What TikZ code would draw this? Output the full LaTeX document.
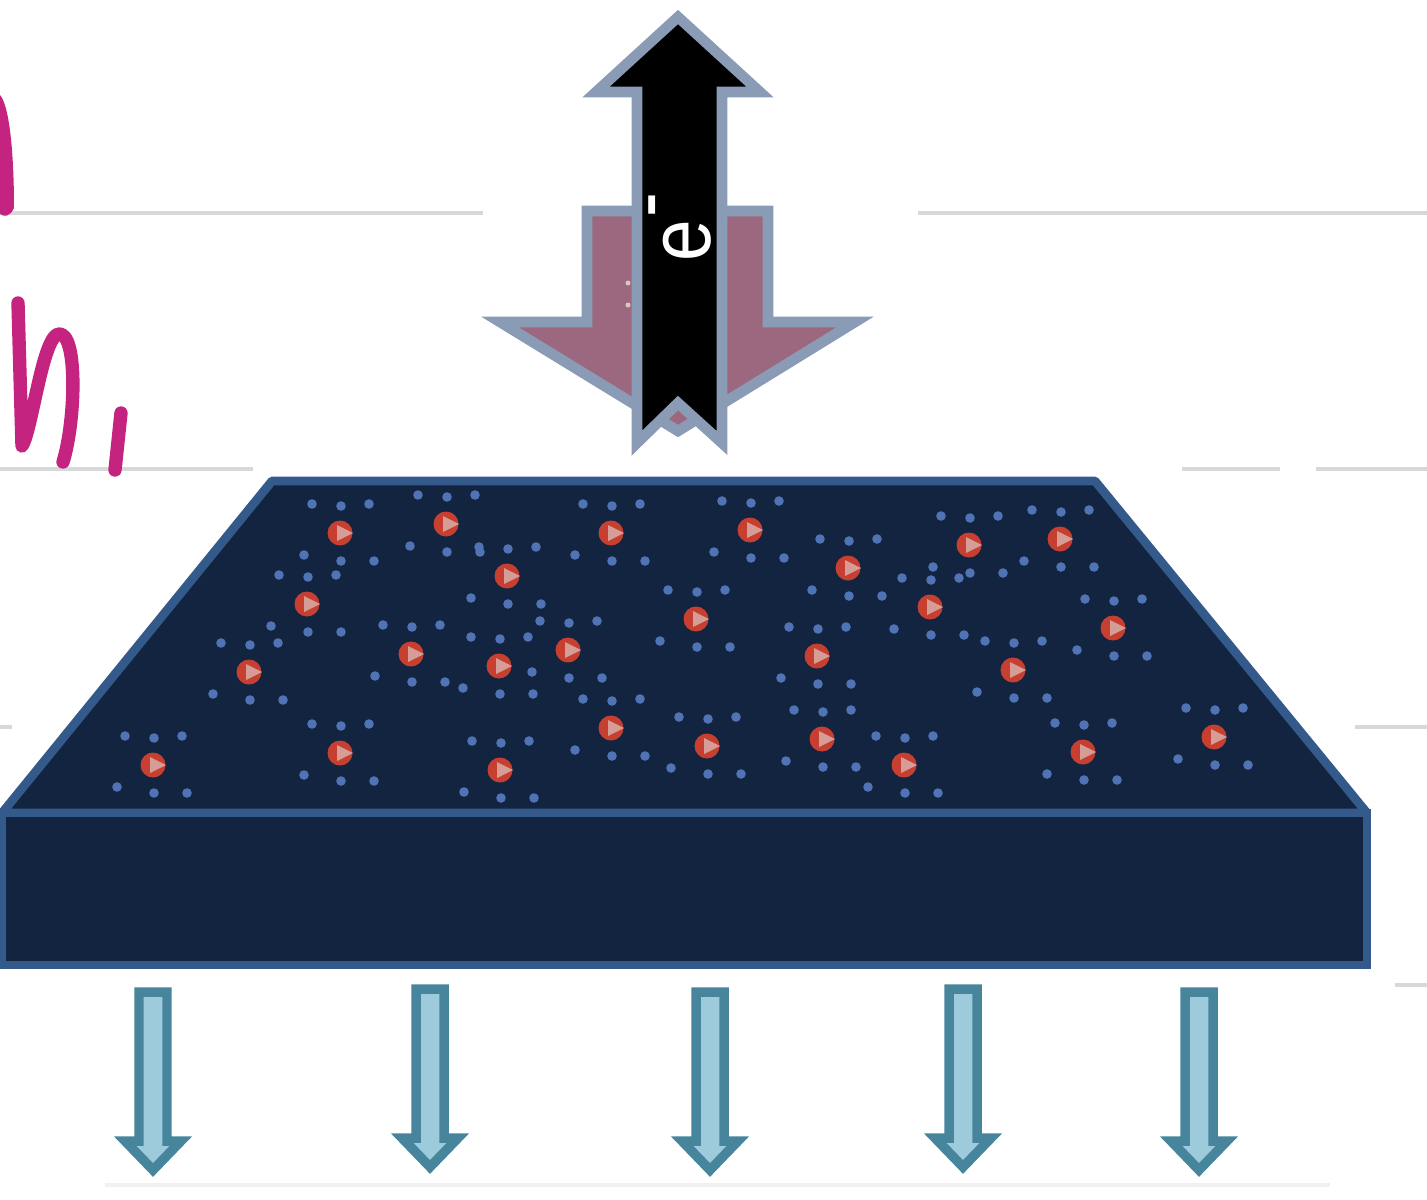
\documentclass[tikz,border=0pt]{standalone}
\usepackage{fontspec}
\setsansfont{Liberation Sans}
\definecolor{slabfill}{HTML}{12243F}
\definecolor{slabline}{HTML}{335A8A}
\definecolor{ballred}{HTML}{C63F31}
\definecolor{ballglow}{HTML}{DCC6C0}
\definecolor{dotblue}{HTML}{5073B6}
\definecolor{arrowline}{HTML}{8A9BB5}
\definecolor{mauve}{HTML}{9C6880}
\definecolor{rulegrey}{HTML}{D6D9D9}
\definecolor{inkpink}{HTML}{C4237F}
\definecolor{fluxfill}{HTML}{9DCBDC}
\definecolor{fluxline}{HTML}{47859C}
\tikzset{
	slabface/.style={fill=slabfill,draw=slabline,line width=2.5pt,line join=bevel},
	bigarrow/.style={draw=arrowline,line width=3pt,line join=miter,miter limit=20},
	fluxarrow/.style={fill=fluxfill,draw=fluxline,line width=2.7pt,line join=miter,miter limit=20},
	rulerline/.style={draw=rulegrey,line width=1.3pt},
	inkline/.style={draw=inkpink,line width=3.8pt,line cap=round,line join=round}
}

\begin{document}
\begin{tikzpicture}[x=0.01cm,y=-0.01cm]
			          \useasboundingbox (0,0) rectangle (1427,1200);
			          %ruled paper
			          \draw[rulerline] (0,213) -- (483,213);
			          \draw[rulerline] (918,213) -- (1427,213);
			          \draw[rulerline] (0,469) -- (253,469);
			          \draw[rulerline] (1182,469) -- (1280,469);
			          \draw[rulerline] (1316,469) -- (1427,469);
			          \draw[rulerline] (0,727) -- (12,727);
			          \draw[rulerline] (1355,727) -- (1427,727);
			          \draw[rulerline] (1395,985) -- (1427,985);
			          \draw[rulerline,draw opacity=0.4] (105,1185) -- (1330,1185);
			          %handwriting
			          \fill[inkpink] (0,95) .. controls (9,105) and (14,150) .. (14,208) .. controls (10,217) and (4,217) .. (0,214) -- cycle;
			          \draw[inkline] (18,303) -- (22,446) .. controls (32,430) and (42,340) .. (58,334) .. controls (78,330) and (76,420) .. (63,462);
			          \draw[inkline] (121,413) -- (115,470);
			          %slab
			          \coordinate (TL) at (272,481);
			          \coordinate (TR) at (1095,481);
			          \coordinate (ML) at (2,813);
			          \coordinate (MR) at (1367,813);
			          \coordinate (BL) at (2,965);
			          \coordinate (BR) at (1367,965);
			          \draw[slabface] (TL) -- (TR) -- (MR) -- (ML) -- cycle;
			          \draw[slabface,line join=miter] (ML) -- (MR) -- (BR) -- (BL) -- cycle;
			          %traps and their dots
			          \foreach \x/\y in {340/533,446/524,507/576,611/533,750/530,848/568,969/545,1060/539,
			                             307/604,696/619,930/607,1113/628,249/672,411/654,499/666,568/650,
			                             817/656,1013/670,611/728,707/746,822/739,904/765,1083/752,1214/737,
			                             153/765,340/753,500/770}{
			            \foreach \dx/\dy in {-28/-29,1/-27,29/-29,-36/22,1/28,34/28}
			              \fill[dotblue] (\x+\dx,\y+\dy) circle (4.8);
			            \fill[ballred] (\x,\y) circle (12.5);
			            \fill[ballglow,opacity=0.7] (\x-3,\y-8) -- (\x+13,\y) -- (\x-3,\y+8) -- cycle;
			          }
			          %down arrow
			          \coordinate (DT) at (678,431);
			          \draw[bigarrow,fill=mauve] (587,211) -- (768,211) -- (768,322) -- (855,322) -- (DT) -- (500,322) -- (587,322) -- cycle;
			          \fill[ballglow] (628,283) circle (2.5);
			          \fill[ballglow] (628,305) circle (2.5);
			          %up arrow
			          \coordinate (UT) at (678,17);
			          \coordinate (UN) at (678,403);
			          \draw[bigarrow,fill=black] (UT) -- (760,92) -- (722,92) -- (722,443) -- (UN) -- (637,443) -- (637,92) -- (596,92) -- cycle;
			          \node[text=white,rotate=90,xscale=0.85,font=\sffamily\fontsize{25}{25}\selectfont,inner sep=0pt] (elec) at (680,227) {e\hspace{1pt}\raisebox{10pt}{-}};
			          %flux arrows
			          \foreach \x/\y in {153/992,430/989,710/992,963/989,1199/992}
			            \draw[fluxarrow] (\x-14,\y) -- (\x+14,\y) -- (\x+14,\y+149) -- (\x+28,\y+149) -- (\x,\y+178) -- (\x-28,\y+149) -- (\x-14,\y+149) -- cycle;
				  \end{tikzpicture}
\end{document}
